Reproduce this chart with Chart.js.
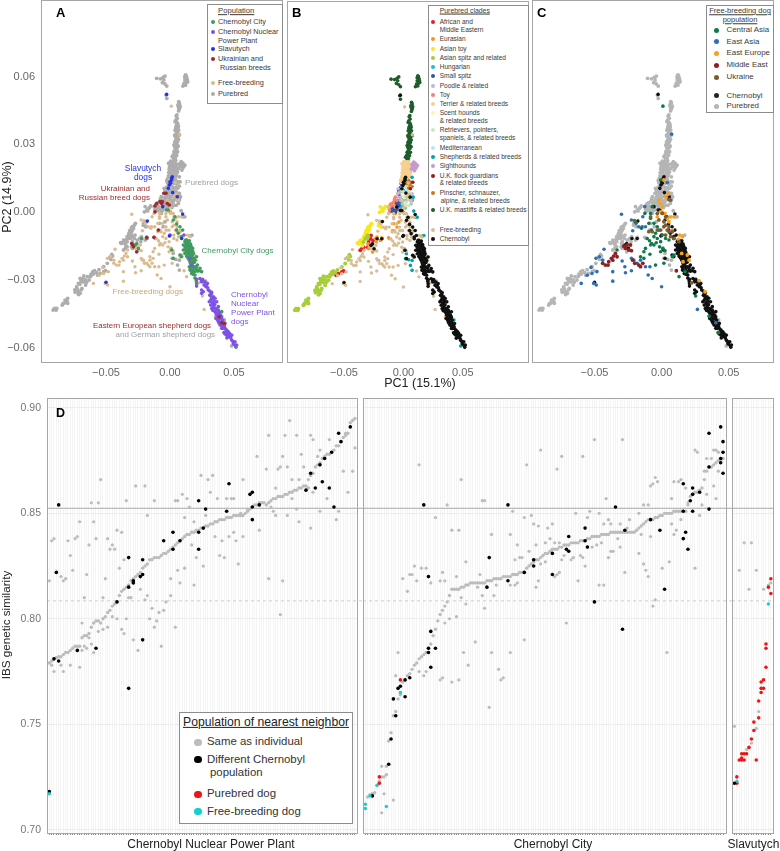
<!DOCTYPE html>
<html>
<head>
<meta charset="utf-8">
<title>Chernobyl dogs PCA and IBS</title>
<script src="https://cdn.jsdelivr.net/npm/chart.js@4"></script>
<style>
  html, body { margin: 0; padding: 0; background: #fff; }
  #page { position: relative; width: 780px; height: 851px; overflow: hidden; font-family: "Liberation Sans", Arial, sans-serif; }
  canvas { position: absolute; }
  .txt { position: absolute; white-space: nowrap; line-height: 1; }
  .dot { position: absolute; border-radius: 50%; }
  .box { position: absolute; background: #fff; border: 1px solid #8c8c8c; box-sizing: border-box; }
</style>
</head>
<body>
<div id="page">
  <canvas id="pcaA" width="284" height="390" style="left:0;top:0"></canvas>
  <canvas id="pcaB" width="243" height="390" style="left:286px;top:0"></canvas>
  <canvas id="pcaC" width="243" height="390" style="left:531px;top:0"></canvas>
  <canvas id="ibsNpp" width="363" height="461" style="left:0;top:390px"></canvas>
  <canvas id="ibsCity" width="370" height="461" style="left:362px;top:390px"></canvas>
  <canvas id="ibsSlav" width="43" height="461" style="left:731px;top:390px"></canvas>
</div>
<script>
const cityDogs = [[.0039,-.0021],[.0026,-.0035],[.0052,-.0053],[.0078,-.0065],[.0052,-.008],[.0099,-.008],[.0065,-.0094],[.0091,-.0109],[.0013,-.0168],[.0026,-.0205],[.0078,-.019],[-.0026,.0009],[-.0013,.0009],[-.026,-.0139],[-.0221,-.0117],[-.0182,-.0117],[-.0273,-.0146],[-.0247,-.0161],[.0117,-.0131],[.013,-.0139],[.0143,-.0146],[.0156,-.0154],[.0117,-.0154],[.013,-.0161],[.0143,-.0168],[.0169,-.0168],[.0104,-.0168],[.0156,-.0183],[.0182,-.0183],[.0117,-.0183],[.013,-.0195],[.0169,-.0198],[.0143,-.0205],[.0208,-.0198],[.0156,-.022],[.0182,-.022],[.0195,-.0213],[.0169,-.0235],[.0195,-.0242],[.0156,-.0257],[.0182,-.0257],[.0208,-.0257],[.0234,-.0249],[.0247,-.0264],[.0169,-.0272],[.0195,-.0279],[.0208,-.0316],[.0273,-.0323],[.0313,-.0368],[.0378,-.0434],[.0404,-.0441],[.0516,-.0599],[.0091,-.0198],[.0104,-.0146],[.013,-.0124],[.0151,-.0127],[.0161,-.0142],[.0177,-.0161],[.0135,-.018],[.0161,-.0171],[.0146,-.0186],[.0188,-.0205],[.0177,-.0227],[.0151,-.0242],[.0214,-.0235],[.0229,-.026],
  [.0122,-.0125],[.014,-.013],[.0125,-.0142],[.0148,-.0138],[.0136,-.015],[.0155,-.0145],[.0165,-.0152],[.0122,-.016],[.0136,-.017],[.015,-.016],[.017,-.016],[.0178,-.0175],[.0125,-.0172],[.014,-.018],[.0155,-.0175],[.0165,-.0185],[.0175,-.019],[.015,-.0192],[.0135,-.0198],[.016,-.02],[.0178,-.0205],[.015,-.0212],[.0165,-.0215],[.019,-.0222],[.016,-.0228],[.0175,-.024],[.016,-.025],[.0185,-.0245],[.0205,-.0245],[.0172,-.0262],[.019,-.0265],[.0215,-.0262],[.018,-.0275],[.0195,-.0292],[.0205,-.0305]];
const nppDogs = [[.0234,-.0294],[.0255,-.0298],[.0273,-.0309],[.0292,-.0316],[.0247,-.0309],[.0266,-.0323],[.0208,-.0328],[.0247,-.0345],[.0299,-.0345],[.0326,-.0357],[.0313,-.0368],[.0339,-.0375],[.0352,-.0382],[.0318,-.039],[.0365,-.0397],[.0339,-.0407],[.0307,-.0397],[.0318,-.0412],[.0339,-.0419],[.0359,-.0427],[.0378,-.0419],[.0326,-.0427],[.0352,-.0441],[.0378,-.0441],[.0396,-.0456],[.0365,-.0456],[.0391,-.0471],[.0359,-.0471],[.0411,-.0478],[.0378,-.0486],[.0417,-.05],[.0391,-.05],[.043,-.0515],[.0404,-.0515],[.0443,-.0523],[.0422,-.0534],[.0464,-.0537],[.0443,-.0545],[.0469,-.0552],[.0482,-.0567],[.0508,-.0574],[.0495,-.0582],[.0521,-.0589],[.0156,-.0205],[.0169,-.0235],[0,-.0102],[.0109,-.0102],[.0208,-.0298],[.026,-.0353],[.0247,-.036],[.0281,-.0331],[.0404,-.0464],[.0385,-.0456],[.043,-.0493],[.0456,-.053],[.0482,-.0545],
  [.0245,-.03],[.0262,-.0308],[.0285,-.0322],[.0295,-.0335],[.031,-.035],[.0322,-.0365],[.0335,-.0385],[.0325,-.038],[.0345,-.0395],[.033,-.0402],[.035,-.041],[.0345,-.0425],[.0365,-.0432],[.0335,-.0436],[.036,-.0448],[.0372,-.045],[.0385,-.0445],[.0372,-.0465],[.0385,-.0475],[.04,-.0472],[.0372,-.0478],[.0395,-.0488],[.0408,-.049],[.0385,-.0492],[.0405,-.0505],[.0425,-.0505],[.0415,-.0515],[.0438,-.053],[.0455,-.054],[.043,-.054],[.046,-.055],[.0445,-.0558],[.0475,-.0558],[.049,-.0572],[.05,-.0585],[.0512,-.0592],[.047,-.0545]];
const slavutychDogs = [[-.0026,.0521],[.0018,.0156],[.0013,.0149],[0,.0134],[-.0005,.012],[-.0013,.0105],[.0021,.0086],[.0057,.0068],[-.0057,.0024],[.0099,-.0009],[-.0177,-.004],[-.0005,-.0106],[.0091,-.0117],[-.05,-.0311],[.0013,.0142],[.0005,.0127]];
const ukrRussianBreeds = [[-.0117,.0027],[-.0078,.0046],[-.0065,.0038],[-.0104,.0038],[-.0117,.0001],[-.0047,.0083],[-.0031,.0083],[-.0021,.0038],[-.0005,.0031],[-.0091,-.008],[-.0125,-.0112],[-.0182,-.0112],[-.0299,-.0139],[-.0286,-.0154],[-.026,-.0176],[-.0292,-.0146],[.0385,-.0464],[.0404,-.049],[.0422,-.0493],[-.006,.0046]];

const fbEastAsia = [[-.0299,-.001],[-.0225,-.0035],[-.019,-.005],[-.0215,-.0083],[-.017,-.0065],[-.014,-.0021],[-.0125,.0024],[-.0429,-.0165],[-.0464,-.0198],[-.0489,-.0205],[-.0526,-.0245],[-.0482,-.0264],[-.0519,-.0272],[-.0554,-.028],[-.0599,-.0316],[-.0506,-.0316],[-.0487,-.0323],[-.0364,-.0306],[-.0364,-.0264],[-.0294,-.0217],[-.0274,-.0242],[-.0269,-.0269],[-.0225,-.026],[-.0225,-.0205],[-.0207,-.0213],[-.012,-.0242],[-.0087,-.0242],[-.01,-.0279],[-.007,-.0294],[0,-.0331],[-.0082,-.0146],[-.0145,-.0065],[-.012,-.0065],[.0042,.0131],[.0075,.0345],[.0404,-.049],[.0267,-.0431],[-.0439,-.0213],[-.0182,-.0227],[-.0157,-.0213]];
const fbCentralAsia = [[.001,.0469],[-.0007,.0142],[-.0125,-.0006],[-.0082,-.0006],[-.007,.0024],[-.0082,-.0028],[-.0095,-.005],[-.0057,-.005],[-.0032,-.0065],[-.0075,-.008],[-.0107,-.0117],[-.009,-.0127],[-.0057,-.0109],[-.0032,-.0117],[.0005,-.0102],[.003,-.0117],[.0055,-.0124],[-.0007,-.0131],[-.004,-.0136],[-.0057,-.0146],[-.012,-.0161],[-.0132,-.0176],[-.0087,-.0187],[-.0015,-.0154],[.001,-.0161],[.0025,-.0171],[-.0007,-.0176],[-.0045,-.0235],[.0017,-.0227],[.008,-.0198],[.0092,-.019],[-.015,-.0072],[-.0045,-.0094],[-.002,-.008],[-.0075,-.0139],[-.0157,-.0198],[-.0132,-.0205],[.013,-.0286],[.0254,-.0372],[.0354,-.0461],[.0424,-.0534],[.0175,-.0264],[-.0332,-.0168],[-.0195,-.0043]];
const fbEastEurope = [[.0017,.0142],[.005,.008],[.003,.0068],[-.002,.0053],[-.0007,.0038],[.0005,.0021],[.0025,-.0006],[.0042,-.0028],[.0067,-.0021],[.0092,-.0021],[.0055,-.0043],[.008,-.008],[.0135,-.0102],[.0125,-.0121],[.0155,-.0109],[.015,-.0183],[.0192,-.019],[.016,-.022],[.0205,-.0213],[.0279,-.0304],[.0324,-.0353],[-.0007,.0001],[-.0032,-.0021]];
const fbUkraine = [[-.0202,-.0038],[-.0032,-.0006],[.0005,-.0006],[.003,-.0021],[.0017,-.0043],[.003,-.0058],[.0042,-.008],[.0055,-.0087],[.008,-.0087],[-.0007,-.008],[-.0032,-.008],[-.007,-.0087],[-.0095,-.0087],[.003,-.0102],[.0067,-.0109],[.0092,-.0117],[-.0082,-.0021],[-.002,-.0035],[.0017,-.0065],[.0055,-.0065],[.013,-.0131],[.0225,-.0313],[.0067,.0053],[.0055,.0056]];
const fbMiddleEast = [[-.0439,-.0227],[-.0419,-.0235],[-.0394,-.022],[-.0374,-.0205],[-.0344,-.0183],[-.0332,-.0198],[-.0364,-.0213],[-.0399,-.0235],[-.0282,-.0151],[-.0257,-.0146],[-.0232,-.0146],[-.0245,-.0168],[-.0225,-.0171],[-.0215,-.0213],[-.02,-.0227],[-.017,-.0235],[.011,-.026],[-.0357,-.0195],[-.0269,-.0161],[-.014,-.0227],[-.0157,-.0242]];

const ukMastiffs = [[-.0104,.0592],[-.0054,.0596],[-.0039,.0602],[-.0059,.0573],[-.0039,.0567],[-.0025,.0558],[-.0031,.0518],[-.0025,.0503],[.0121,.0607],[.013,.0596],[.0116,.0585],[.011,.057],[.0121,.0562],[.0101,.0558],[.0138,.0577],[.0124,.0582],[.0068,.0489],[.0073,.0478],[.0065,.0466],[.0079,.0469],[.007,.0455],[.0054,.043],[.0045,.0407],[.0059,.0393],[.0065,.0378],[.0045,.0371],[.0054,.0356],[.0037,.0341],[.0073,.0341],[.0054,.0326],[.0037,.0311],[.0059,.0311],[.0031,.0297],[.0065,.0292],[.0045,.0282],[.0031,.0267],[.0059,.0267],[.0025,.0252],[.0017,.0245],[.0068,.0363],[.0051,.0385],[.0042,.0334],[.0048,.0301],
  [.0048,.0425],[.0057,.0415],[.004,.04],[.0052,.0398],[.0062,.0386],[.0048,.0378],[.0058,.0371],[.004,.0362],[.005,.0349],[.0062,.0347],[.0044,.0336],[.006,.0332],[.0046,.032],[.0066,.0322],[.0042,.0304],[.0056,.0296],[.0037,.0288],[.0054,.0283],[.004,.0274],[.0048,.0262],[.0034,.0258],[.0052,.0252],[.0028,.024],[.0042,.024],[.0115,.0598],[.0126,.0604],[.0128,.0574],[.0112,.0565],[.0134,.0587],[.0072,.0484],[.0062,.0474],[.0075,.046],[.0067,.0448],[-.0075,.059],[-.0048,.0585]];
const terriers = [[.0017,.0223],[.0037,.0216],[.0003,.0208],[.0025,.0204],[.0045,.0201],[.0003,.0186],[.0025,.0186],[.0045,.0186],[.0008,.0171],[.0031,.0164],[-.0003,.0156],[.0017,.0149],[.0059,.0179],[-.002,.0134],[.0008,.0134],[-.0011,.0216],[.0031,.023],[.0011,.0196],
  [.0005,.0225],[.0025,.0222],[.0045,.0228],[.001,.0212],[.003,.021],[.005,.0212],[-.0004,.02],[.0016,.02],[.0036,.0195],[.0056,.0195],[-.0006,.019],[.0014,.0182],[.0036,.0178],[.0052,.017],[-.001,.0175],[.002,.0165],[.004,.0155],[-.0012,.016],[.0006,.0152],[.0028,.0148],[-.0018,.0148],[.0048,.016],[.001,.014],[-.0025,.014],[.003,.0135]];
const sighthounds = [[.0087,.0223],[.0101,.0216],[.0073,.0213],[.0116,.0208],[.0082,.0201],[.0101,.0196],[.0068,.0193],[.0093,.0186],[.0092,.0212],[.0108,.0202],[.0078,.0208]];
const pinschers = [[.0045,.0142],[.0065,.0134],[.0031,.0127],[.0054,.0124],[.0073,.0115],[.0045,.0109]];
const ukFlock = [[.0079,.0134],[.0059,.0105]];
const retrievers = [[.0017,.0112],[.0045,.009],[.0031,.0068],[.0008,.009],[.0054,.0053],[.0025,.0046],[-.0011,.0097],[.003,.0105],[.0055,.0085],[.004,.006],[.0015,.007],[.0062,.0062],[.002,.003],[.0048,.003]];
const scentHounds = [[.0003,.0068],[-.002,.0053],[.0031,.0031],[.0012,.004],[-.0008,.008],[.0022,.0085]];
const poodles = [[-.0011,.0112],[-.0031,.009],[-.0048,.0083],[-.0025,.0068],[.0045,.0075],[.0065,.0038],[.0003,.0053],[.0073,.0083],[-.004,.0065],[-.0015,.0085],[-.0045,.0105],[.0005,.0035],[.0075,.006]];
const smallSpitz = [[-.0096,.0016],[-.0068,.0009],[-.0054,.0016],[-.0082,.0024],[-.0039,.0031],[-.0025,.0053],[-.0031,.0075],[-.0054,.0038],[-.002,.013],[-.0011,.012],[-.0039,.0097],[-.0068,.0001],[-.0096,.0006],[-.0062,.002],[-.0075,.0012],[-.0048,.0028],[-.004,.0048],[-.003,.0088],[-.0085,.0015],[-.006,.0045],[-.0025,.011]];
const hungarian = [[-.0011,.0038],[.0008,.0027],[.0025,.0053],[-.0039,.0053],[-.002,.0083],[.0003,.0097],[-.002,.0025],[-.0005,.006],[.0015,.002],[-.003,.004]];
const toyBreeds = [[-.0124,.0024],[-.011,.0035],[-.0082,.0046],[-.0054,.0053],[-.0068,.0068],[-.01,.003],[-.0118,.0012],[-.0095,.004],[-.0075,.0058]];
const mediterranean = [[.0031,.0097],[.0065,.0068]];
const shepherds = [[.0073,.0156],[.0073,.0053],[.0087,.0006],[.0101,-.0021],[.0172,-.0102],[.0158,-.0106],[.0008,-.0161],[.0025,-.0183],[.0017,-.0205],[.0045,-.021],[.0073,-.0213],[.0059,-.0235],[.0073,-.0257],[.0425,-.0478],[.0411,-.05],[.044,-.0523],[.0454,-.0552],[.0482,-.0593],[.0082,.0068],[.0116,-.0021]];
const asianToy = [[-.0194,.0024],[-.018,.0009],[-.0166,.0016],[-.0152,.0027],[-.02,.0001],[-.0206,-.005],[-.0189,-.0065],[-.0209,-.0058],[-.0293,-.0065],[-.0279,-.0058],[-.0307,-.008],[-.0321,-.0094],[-.0335,-.0109],[-.0313,-.0094],[-.0293,-.008],[-.0363,-.0124],[-.0378,-.0139],[-.0349,-.0139],[-.0386,-.0136],[-.0301,-.0068],[-.034,-.0122],[-.0355,-.013],[-.0325,-.0105],[-.0315,-.0082],[-.0285,-.0072],[-.027,-.005],[-.02,-.006],[-.0175,.0005],[-.016,.002],[-.037,-.0135],[-.0345,-.0148],[-.03,-.0088]];
const asianSpitz = [[-.0301,-.0102],[-.0321,-.0117],[-.0335,-.0131],[-.0307,-.0117],[-.0448,-.0195],[-.0462,-.021],[-.049,-.0227],[-.0518,-.0242],[-.0603,-.0264],[-.0617,-.0275],[-.0673,-.0283],[-.0702,-.0294],[-.0688,-.0309],[-.0631,-.0301],[-.0716,-.0316],[-.0659,-.0323],[-.073,-.0331],[-.0688,-.0338],[-.0702,-.036],[-.0744,-.0345],[-.08,-.0382],[-.0814,-.0397],[-.0828,-.0404],[-.0842,-.0412],[-.08,-.0404],[-.0899,-.0427],[-.0913,-.0434],[-.0885,-.0427],[-.0645,-.0286],[-.0716,-.0353],[-.0673,-.0309],[-.0589,-.026],[-.0695,-.0305],[-.0705,-.032],[-.068,-.0295],[-.066,-.03],[-.065,-.031],[-.0725,-.034],[-.074,-.0355],[-.0715,-.0365],[-.0695,-.0345],[-.0805,-.0395],[-.082,-.039],[-.0835,-.0405],[-.0905,-.0428],[-.089,-.0434],[-.062,-.0285],[-.06,-.0275],[-.0575,-.0268],[-.0555,-.0255],[-.047,-.02],[-.0455,-.0188],[-.031,-.011],[-.0295,-.0108]];
const africanMidEast = [[-.0293,-.0131],[-.0279,-.0117],[-.0265,-.0146],[-.0273,-.0102],[-.0349,-.0161],[-.0335,-.0154],[-.0363,-.0168],[-.0518,-.0264],[-.0547,-.0272],[-.0566,-.0279],[-.0504,-.026],[-.0301,-.0154],[-.0256,-.0124]];
const eurasian = [[-.0223,-.0109],[-.0237,-.0117],[-.018,-.0117],[-.0293,-.0161],[-.0054,.0009],[-.0039,-.0043],[-.0082,-.005],[-.0054,-.0065],[-.0068,-.0006],[-.0194,-.0124],[-.0228,-.0131],[-.0116,-.0117],[.0003,.0001],[-.0025,.0016]];

const pcaXTicks = [-0.05, 0, 0.05];
const pcaYTicks = [-0.06, -0.03, 0, 0.03, 0.06];

// IBS values, one per individual along the sorted curve, then off-curve dots as [individual, similarity]
const nppCurve = [.779,.780,.781,.7815,.782,.782,.783,.784,.784,.785,.786,.787,.787,.787,.791,.792,.792,.793,.796,.798,.799,.799,.798,.800,.801,.803,.804,.806,.807,.808,.811,.813,.814,.815,.816,.818,.819,.820,.821,.822,.824,.825,.826,.828,.828,.829,.829,.829,.830,.831,.831,.832,.833,.834,.835,.836,.837,.838,.839,.840,.840,.841,.841,.842,.842,.843,.843,.844,.844,.845,.845,.846,.846,.847,.847,.847,.848,.848,.848,.849,.849,.849,.849,.849,.850,.851,.852,.853,.854,.854,.855,.855,.855,.854,.855,.856,.857,.857,.858,.858,.858,.859,.859,.860,.860,.861,.861,.862,.862,.863,.863,.862,.868,.869,.872,.873,.874,.876,.877,.878,.878,.879,.880,.882,.882,.884,.886,.887,.888,.893,.894,.895];
const nppOther = [[1,.818],[2,.837],[3,.838],[6,.820],[8,.819],[7,.818],[9,.837],[10,.830],[11,.823],[12,.838],[13,.839],[14,.846],[15,.798],[16,.810],[17,.821],[18,.835],[20,.846],[21,.838],[19,.855],[22,.855],[23,.866],[24,.810],[25,.819],[26,.838],[27,.833],[28,.835],[29,.833],[30,.842],[31,.824],[32,.841],[33,.828],[34,.856],[35,.810],[36,.810],[37,.790],[38,.863],[39,.785],[40,.814],[42,.863],[42,.809],[43,.849],[43,.811],[44,.800],[45,.805],[46,.856],[46,.796],[47,.799],[48,.803],[49,.787],[50,.804],[51,.808],[53,.811],[53,.819],[55,.796],[55,.856],[56,.856],[56,.823],[57,.817],[58,.859],[59,.848],[59,.824],[60,.857],[61,.853],[62,.835],[63,.816],[63,.846],[64,.829],[66,.868],[67,.825],[68,.849],[69,.866],[70,.860],[71,.868],[72,.839],[73,.857],[74,.830],[75,.837],[76,.829],[77,.857],[78,.839],[79,.857],[80,.857],[80,.841],[81,.837],[82,.826],[83,.850],[84,.866],[84,.839],[86,.852],[90,.877],[91,.842],[94,.871],[95,.887],[95,.819],[96,.853],[97,.851],[98,.849],[98,.862],[99,.871],[100,.872],[100,.802],[101,.877],[101,.818],[102,.887],[103,.872],[103,.849],[104,.894],[105,.857],[105,.866],[107,.887],[107,.852],[108,.846],[108,.866],[109,.878],[110,.872],[113,.887],[113,.843],[114,.885],[114,.860],[117,.851],[120,.857],[124,.847],[125,.851],[127,.870],[129,.860],[131,.870],[132,.881],[112,.866],[116,.877],[117,.880],[121,.885],[128,.888],[2,.778],[3,.775],[7,.775],[10,.778],[14,.777],[16,.787],[20,.784],[32,.795],[30,.800],[34,.800],[33,.793],[15,.785],[6,.778],[17,.786],[18,.791],[19,.788],[22,.794],[24,.795],[26,.796],[28,.801]];
const nppBlack = [[1,.718],[5,.854],[4,.822],[3,.781],[5,.780],[13,.785],[21,.786],[35,.767],[35,.829],[30,.808],[35,.815],[37,.818],[37,.817],[40,.820],[41,.821],[41,.828],[41,.790],[50,.837],[54,.833],[54,.841],[57,.837],[65,.856],[65,.841],[65,.833],[67,.843],[68,.852],[77,.851],[78,.864],[87,.859],[88,.860],[88,.853],[88,.847],[91,.854],[111,.861],[113,.869],[115,.862],[117,.873],[118,.865],[119,.876],[121,.862],[122,.879],[123,.853],[125,.888],[126,.884],[130,.891]];
const nppCyan = [[1,.717]];

const cityCurve = [null,.7155,.7166,.717,.7175,.721,.723,.725,.725,.726,.742,.746,.754,.756,.762,.764,.770,.771,.773,.774,.776,.778,.779,.781,.782,.783,.784,.786,.788,.792,.795,.799,.802,.804,.806,.808,.811,.814,.814,.814,.814,.815,.815,.816,.816,.817,.817,.817,.817,.817,.817,.817,.818,.818,.818,.819,.819,.819,.819,.820,.820,.820,.820,.821,.821,.821,.822,.822,.822,.824,.825,.826,.827,.828,.828,.829,.830,.831,.831,.832,.833,.833,.833,.834,.834,.835,.835,.835,.836,.836,.836,.836,.837,.837,.837,.838,.838,.839,.839,.839,.839,.840,.840,.840,.840,.841,.841,.841,.841,.841,.841,.841,.841,.841,.841,.841,.842,.843,.844,.845,.846,.847,.847,.847,.848,.848,.849,.849,.850,.850,.850,.850,.851,.851,.851,.851,.851,.851,.854,.858,.859,.860,.860,.861,.862,.866,.870,.872,.872,.873,.874,.875,.875,.876];
const cityOther = [[24,.873],[42,.866],[36,.854],[31,.848],[38,.842],[41,.842],[51,.856],[52,.856],[55,.840],[63,.840],[64,.851],[69,.848],[72,.849],[73,.845],[75,.844],[70,.873],[76,.880],[83,.871],[85,.877],[94,.877],[99,.885],[111,.885],[104,.857],[97,.851],[91,.850],[96,.848],[101,.850],[105,.847],[103,.845],[106,.845],[110,.845],[113,.843],[114,.847],[118,.850],[120,.854],[122,.854],[123,.863],[124,.864],[125,.867],[126,.865],[133,.865],[135,.865],[136,.866],[132,.857],[142,.880],[143,.879],[147,.876],[149,.876],[150,.880],[151,.880],[152,.879],[146,.870],[152,.870],[147,.859],[150,.863],[145,.854],[151,.857],[144,.849],[138,.862],[139,.855],[136,.847],[132,.845],[133,.840],[134,.842],[123,.839],[118,.831],[120,.826],[121,.823],[122,.820],[128,.824],[131,.827],[142,.824],[124,.806],[125,.809],[130,.784],[87,.798],[69,.790],[63,.784],[55,.784],[43,.784],[45,.778],[58,.776],[60,.772],[59,.771],[54,.758],[48,.789],[38,.770],[41,.771],[33,.771],[34,.772],[14,.773],[15,.784],[24,.775],[26,.773],[27,.775],[17,.819],[19,.813],[20,.821],[21,.821],[22,.825],[23,.818],[25,.824],[27,.824],[29,.817],[33,.818],[35,.818],[34,.822],[40,.820],[44,.827],[42,.810],[44,.807],[40,.801],[37,.800],[35,.798],[50,.821],[49,.815],[51,.811],[52,.805],[56,.811],[57,.816],[63,.816],[66,.835],[65,.828],[67,.829],[68,.829],[74,.835],[71,.832],[78,.836],[80,.838],[81,.845],[79,.843],[82,.836],[84,.836],[75,.818],[74,.815],[65,.816],[66,.817],[82,.820],[83,.821],[84,.822],[76,.826],[78,.827],[85,.828],[86,.830],[89,.828],[90,.829],[93,.830],[94,.829],[95,.825],[92,.818],[101,.816],[103,.816],[105,.829],[106,.832],[107,.832],[110,.834],[102,.836],[100,.835],[98,.834],[108,.841],[109,.838],[112,.822],[119,.840],[8,.708],[9,.717],[13,.714],[8,.730],[10,.730]];
const cityBlack = [[26,.854],[28,.820],[62,.854],[54,.829],[53,.815],[62,.818],[69,.822],[73,.828],[73,.825],[81,.831],[81,.821],[87,.833],[88,.839],[88,.832],[95,.843],[95,.837],[96,.834],[99,.808],[108,.853],[111,.795],[112,.842],[123,.847],[127,.842],[129,.814],[137,.864],[137,.851],[138,.841],[137,.838],[139,.833],[140,.856],[141,.859],[141,.862],[141,.851],[144,.860],[148,.888],[148,.872],[148,.852],[153,.891],[154,.884],[154,.879],[153,.876],[153,.874],[154,.869],[29,.794],[28,.786],[28,.784],[31,.786],[29,.777],[20,.772],[18,.771],[16,.768],[15,.767],[18,.763],[13,.762],[14,.754],[12,.743],[11,.731],[4,.716]];
const cityRed = [[16,.771],[7,.725],[7,.722]];
const cityCyan = [[16,.765],[6,.721],[3,.716],[1,.712],[1,.710],[10,.711]];

const slavOther = [[1,.749],[3,.823],[5,.836],[8,.836],[10,.823],[7,.814],[13,.814],[15,.816],[16,.817],[10,.748],[11,.756],[8,.741],[6,.738],[7,.739]];
const slavRed = [[16,.819],[15,.815],[16,.812],[14,.788],[14,.786],[14,.777],[13,.771],[12,.770],[13,.767],[12,.767],[12,.765],[11,.761],[11,.753],[9,.751],[9,.747],[8,.743],[7,.739],[4,.736],[5,.736],[6,.736],[3,.733],[4,.734],[4,.733],[5,.733],[10,.733],[2,.725],[2,.722]];
const slavCyan = [[15,.807],[2,.723]];
const slavBlack = [[1,.722]];

const ibsYTicks = [0.70, 0.75, 0.80, 0.85, 0.90];
const meanSolid = 0.8524;
const meanDashed = 0.8085;

const FONT = '"Liberation Sans", Arial, sans-serif';
const GREY = '#adadad';
const TAN = '#dcba8b';
const BLACK = '#111111';

const freeBreeding = [].concat(fbEastAsia, fbCentralAsia, fbEastEurope, fbUkraine, fbMiddleEast);
const chernobyl = [].concat(nppDogs, cityDogs, slavutychDogs);
const pureClades = [ukMastiffs, terriers, sighthounds, pinschers, ukFlock, retrievers, scentHounds, poodles, smallSpitz, hungarian, toyBreeds, mediterranean, shepherds, asianToy, asianSpitz, africanMidEast, eurasian];
const purebred = [].concat(...pureClades, ukrRussianBreeds);

const frame = {
  id: 'frame',
  afterDraw(chart) {
    const a = chart.chartArea, c = chart.ctx;
    c.save();
    c.strokeStyle = '#a6a6a6';
    c.lineWidth = 1;
    c.strokeRect(a.left + 0.5, a.top + 0.5, a.right - a.left - 1, a.bottom - a.top);
    c.restore();
  }
};

function dots(pts, color, r) {
  return { data: pts.map(p => ({ x: p[0], y: p[1] })), backgroundColor: color, borderWidth: 0, pointRadius: r, showLine: false };
}

function fixedTicks(values) {
  return scale => { scale.ticks = values.map(v => ({ value: v })); };
}

// pin the axis size and stop labels from pushing the plot area in
function pinAxis(prop, size) {
  return scale => {
    scale[prop] = size;
    scale.paddingTop = scale.paddingBottom = scale.paddingLeft = scale.paddingRight = 0;
  };
}

function pcaChart(id, datasets, xr, yWidth, pad) {
  new Chart(document.getElementById(id), {
    type: 'scatter',
    data: { datasets },
    plugins: [frame],
    options: {
      responsive: false,
      animation: false,
      layout: { padding: pad, autoPadding: false },
      plugins: { legend: { display: false }, tooltip: { enabled: false } },
      scales: {
        x: {
          type: 'linear', min: xr[0], max: xr[1],
          grid: { display: false, drawTicks: false }, border: { display: false },
          afterBuildTicks: fixedTicks(pcaXTicks),
          afterFit: pinAxis('height', 28),
          ticks: { autoSkip: false, maxRotation: 0, color: '#666', padding: 4, font: { family: FONT, size: 11 }, callback: v => v.toFixed(2).replace('-', '\u2212') }
        },
        y: {
          type: 'linear', min: -0.0664, max: 0.0939,
          grid: { display: false, drawTicks: false }, border: { display: false },
          afterBuildTicks: fixedTicks(pcaYTicks),
          afterFit: pinAxis('width', yWidth),
          ticks: { display: yWidth > 0, autoSkip: false, color: '#666', padding: 6, font: { family: FONT, size: 11 }, callback: v => v.toFixed(2).replace('-', '\u2212') }
        }
      }
    }
  });
}

function ibsChart(id, datasets, n, xMax, plotWidth, yWidth, pad) {
  const xTicks = [];
  for (let i = 1; i <= n; i++) xTicks.push(i);
  // reference lines run on through the gap to the next panel
  const reach = xMax * (1 + (pad.right || 0) / plotWidth);
  const lines = [
    { type: 'line', data: [{ x: 0, y: meanSolid }, { x: reach, y: meanSolid }], borderColor: '#a9a9a9', borderWidth: 1, pointRadius: 0, clip: false },
    { type: 'line', data: [{ x: 0, y: meanDashed }, { x: reach, y: meanDashed }], borderColor: '#cfcfcf', borderWidth: 1, borderDash: [3, 3], pointRadius: 0, clip: false }
  ];
  new Chart(document.getElementById(id), {
    type: 'scatter',
    data: { datasets: datasets.concat(lines) },
    plugins: [frame],
    options: {
      responsive: false,
      animation: false,
      layout: { padding: pad, autoPadding: false },
      plugins: { legend: { display: false }, tooltip: { enabled: false } },
      scales: {
        x: {
          type: 'linear', min: 0, max: xMax,
          grid: { color: '#f4f4f4', lineWidth: 1, tickLength: 2, tickColor: '#8a8a8a', drawTicks: true },
          border: { display: false },
          afterBuildTicks: fixedTicks(xTicks),
          afterFit: pinAxis('height', 18),
          ticks: { display: false, autoSkip: false }
        },
        y: {
          type: 'linear', min: 0.6984, max: 0.9047,
          grid: { color: '#ededed', drawTicks: false },
          border: { display: false },
          afterBuildTicks: fixedTicks(ibsYTicks),
          afterFit: pinAxis('width', yWidth),
          ticks: { display: yWidth > 0, autoSkip: false, color: '#777', padding: 6, font: { family: FONT, size: 10.5 }, callback: v => v.toFixed(2) }
        }
      }
    }
  });
}

pcaChart('pcaA', [
  dots(slavutychDogs, '#2433e8', 1.8),
  dots(ukrRussianBreeds, '#9c2a2c', 1.8),
  dots(nppDogs, '#7d52e6', 1.8),
  dots(cityDogs, '#3e9b5f', 1.8),
  dots(freeBreeding, TAN, 1.7),
  dots(purebred, GREY, 1.9)
], [-0.1008, 0.0883], 41, { right: 1 });

pcaChart('pcaB', [
  dots(chernobyl, BLACK, 1.8),
  dots(freeBreeding, '#d8bd96', 1.7),
  dots(ukMastiffs, '#1f5c2c', 1.8),
  dots(ukFlock, '#9c1b1f', 1.8),
  dots(pinschers, '#c9781f', 1.8),
  dots(sighthounds, '#c69ad0', 2),
  dots(shepherds, '#00a3a6', 1.8),
  dots(mediterranean, '#bde3ee', 1.8),
  dots(retrievers, '#cde7c0', 1.8),
  dots(scentHounds, '#fbf5af', 1.8),
  dots(terriers, '#f6d08f', 2),
  dots(toyBreeds, '#f58078', 1.8),
  dots(poodles, '#bfb6dc', 1.8),
  dots(smallSpitz, '#3853a4', 1.9),
  dots(hungarian, '#27b7dc', 1.8),
  dots(asianSpitz, '#a6ce39', 2),
  dots(asianToy, '#f6e71e', 2),
  dots(eurasian.concat(ukrRussianBreeds), '#f7941d', 1.8),
  dots(africanMidEast, '#e41e2e', 2)
], [-0.098, 0.1057], 0, { left: 1, top: 1 });

pcaChart('pcaC', [
  dots(fbMiddleEast, '#8f1f22', 1.9),
  dots(fbUkraine, '#7a5c32', 1.9),
  dots(fbEastEurope, '#f9a11b', 1.9),
  dots(fbCentralAsia, '#0c7c45', 1.8),
  dots(fbEastAsia, '#2f6fb3', 1.8),
  dots(chernobyl, BLACK, 1.8),
  dots(purebred, '#b5b5b5', 1.9)
], [-0.0966, 0.0838], 0, { left: 1 });

const curvePoints = arr => arr.map((v, i) => [i + 1, v]);
const GREY_D = '#bcbcbc', RED = '#f21414', CYAN = '#14cfd0';

ibsChart('ibsNpp', [
  dots(nppCyan, CYAN, 1.7),
  dots(nppBlack, '#000', 1.8),
  dots(curvePoints(nppCurve), GREY_D, 1.7),
  dots(nppOther, GREY_D, 1.6)
], nppCurve.length, 133.3, 311, 47, { top: 8, right: 5 });

ibsChart('ibsCity', [
  dots(cityRed, RED, 1.8),
  dots(cityCyan, CYAN, 1.7),
  dots(cityBlack, '#000', 1.8),
  dots(curvePoints(cityCurve), GREY_D, 1.7),
  dots(cityOther, GREY_D, 1.6)
], cityCurve.length, 155.7, 364, 0, { top: 8, left: 1, right: 5 });

ibsChart('ibsSlav', [
  dots(slavBlack, '#000', 1.8),
  dots(slavCyan, CYAN, 1.7),
  dots(slavRed, RED, 1.8),
  dots(slavOther, GREY_D, 1.6)
], 16, 17.3, 41, 0, { top: 8, left: 1 });

// labels, legends and annotations
const page = document.getElementById('page');

function put(text, x, y, size, color, extra) {
  const d = document.createElement('div');
  d.className = 'txt';
  d.textContent = text;
  d.style.cssText = `left:${x}px;top:${y}px;font-size:${size}px;color:${color};transform:translateY(-50%);` + (extra || '');
  page.appendChild(d);
  return d;
}
function putRight(text, right, y, size, color) {
  return put(text, right, y, size, color, 'transform:translate(-100%,-50%);');
}
function putCenter(text, x, y, size, color, extra) {
  return put(text, x, y, size, color, 'transform:translate(-50%,-50%);' + (extra || ''));
}
function legendBox(x, y, w, h) {
  const d = document.createElement('div');
  d.className = 'box';
  d.style.cssText = `left:${x}px;top:${y}px;width:${w}px;height:${h}px;`;
  page.appendChild(d);
}
function legendDot(x, y, size, color) {
  const d = document.createElement('div');
  d.className = 'dot';
  d.style.cssText = `left:${x - size / 2}px;top:${y - size / 2}px;width:${size}px;height:${size}px;background:${color};`;
  page.appendChild(d);
}
const UNDER = 'text-decoration:underline;';
const INK = '#3a3a3a';

put('A', 56, 12, 13, '#000', 'font-weight:bold;');
put('B', 292, 12, 13, '#000', 'font-weight:bold;');
put('C', 537, 12, 13, '#000', 'font-weight:bold;');
put('D', 56, 413, 12.5, '#000', 'font-weight:bold;');

putCenter('PC2 (14.9%)', 6.5, 197, 12.5, '#222', 'transform:translate(-50%,-50%) rotate(-90deg);');
putCenter('PC1 (15.1%)', 420, 383, 12.5, '#222');
putCenter('IBS genetic similarity', 6, 625, 11.7, '#222', 'transform:translate(-50%,-50%) rotate(-90deg);');
putCenter('Chernobyl Nuclear Power Plant', 211, 844, 12, '#222');
putCenter('Chernobyl City', 553, 844, 12, '#222');
putCenter('Slavutych', 753.5, 844, 12, '#222');

// panel A notes
putCenter('Slavutych', 143, 168, 8.4, '#2433e8');
putCenter('dogs', 143, 177, 8.4, '#2433e8');
putRight('Ukrainian and', 150, 189, 8, '#9c2a2c');
putRight('Russian breed dogs', 150, 198, 8, '#9c2a2c');
put('Purebred dogs', 185, 183, 8.1, '#a0a0a0');
put('Chernobyl City dogs', 201.5, 251, 8, '#3e9b5f');
put('Free-breeding dogs', 112.5, 291.5, 8.1, '#c9a677');
put('Chernobyl', 231, 294.5, 8.1, '#7d52e6');
put('Nuclear', 231, 303.5, 8.1, '#7d52e6');
put('Power Plant', 231, 312.5, 8.1, '#7d52e6');
put('dogs', 231, 321.5, 8.1, '#7d52e6');
put('Eastern European shepherd dogs', 93, 326, 7.9, '#9c2a2c');
put('and German shepherd dogs', 115.5, 335, 8, '#a0a0a0');

// panel A legend
legendBox(207, 4, 76, 100);
put('Population', 218, 11, 7.7, INK, UNDER);
[['Chernobyl City', 21.7, '#3e9b5f'], ['Chernobyl Nuclear', 32, '#7d52e6'], ['Power Plant', 40.7], ['Slavutych', 49, '#2433e8'], ['Ukrainian and', 59.3, '#9c2a2c'], [' Russian breeds', 68], ['Free-breeding', 83.3, TAN], ['Purebred', 93.7, GREY]].forEach(r => {
  put(r[0].trim(), r[0][0] === ' ' ? 220 : 218, r[1], 7.3, INK);
  if (r[2]) legendDot(212.7, r[1], 4.4, r[2]);
});

// panel B legend
legendBox(427.5, 4.5, 101, 241);
put('Purebred clades', 439.7, 11, 6.9, INK, UNDER);
[['African and', 22, '#e41e2e'], ['Middle Eastern', 30.3], ['Eurasian', 39.3, '#f7941d'], ['Asian toy', 48.7, '#f6e71e'], ['Asian spitz and related', 57.7, '#a6ce39'], ['Hungarian', 67, '#27b7dc'], ['Small spitz', 76.3, '#3853a4'], ['Poodle & related', 85.7, '#bfb6dc'], ['Toy', 95, '#f58078'], ['Terrier & related breeds', 104, '#f6d08f'], ['Scent hounds', 113.3, '#fbf5af'], ['& related breeds', 121.3], ['Retrievers, pointers,', 130.3, '#cde7c0'], ['spaniels, & related breeds', 138.3], ['Mediterranean', 147.7, '#bde3ee'], ['Shepherds & related breeds', 157, '#00a3a6'], ['Sighthounds', 166.3, '#c69ad0'], ['U.K. flock guardians', 175.7, '#9c1b1f'], ['& related breeds', 183.3], ['Pinscher, schnauzer,', 192.7, '#c9781f'], ['alpine, & related breeds', 200.7], ['U.K. mastiffs & related breeds', 210, '#1f5c2c'], ['Free-breeding', 230, '#d8bd96'], ['Chernobyl', 239.3, BLACK]].forEach(r => {
  put(r[0], r[0] === 'alpine, & related breeds' ? 440.7 : 439.7, r[1], 6.55, INK);
  if (r[2]) legendDot(433, r[1], 4, r[2]);
});

// panel C legend
legendBox(706, 4.5, 67.5, 108.5);
putCenter('Free-breeding dog', 740, 11, 7.5, INK, UNDER);
putCenter('population', 740, 20, 7.5, INK, UNDER);
[['Central Asia', 30, '#0c7c45'], ['East Asia', 41.7, '#2f6fb3'], ['East Europe', 53.3, '#f9a11b'], ['Middle East', 65.3, '#8f1f22'], ['Ukraine', 77, '#7a5c32'], ['Chernobyl', 95.7, '#222'], ['Purebred', 106.3, '#b5b5b5']].forEach(r => {
  put(r[0], 726.5, r[1], 7.9, INK);
  legendDot(716.7, r[1], 5, r[2]);
});

// panel D legend
legendBox(179, 711.5, 174, 112);
put('Population of nearest neighbor', 183, 722, 12.2, '#222', UNDER);
[['Same as individual', 207, 742.3, GREY_D], ['Different Chernobyl', 207, 759.7, '#000'], ['population', 210, 773.3], ['Purebred dog', 207, 794.3, RED], ['Free-breeding dog', 207, 811.7, CYAN]].forEach(r => {
  put(r[0], r[1], r[2], 11.4, '#333');
  if (r[3]) legendDot(198, r[2], 7.5, r[3]);
});
</script>
</body>
</html>
